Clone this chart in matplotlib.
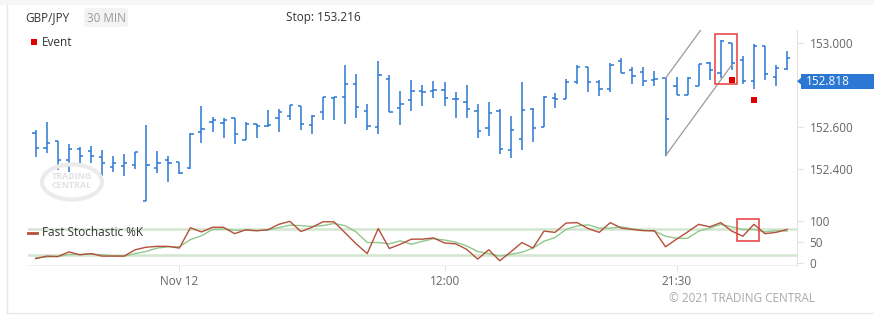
import matplotlib
matplotlib.use("Agg")
import matplotlib.pyplot as plt
from matplotlib.patches import Rectangle, Ellipse, Polygon, FancyBboxPatch
from matplotlib.lines import Line2D
import numpy as np

plt.rcParams['font.family'] = ['Open Sans', 'DejaVu Sans']

# OHLC, 30 min bars
opens = [152.571, 152.499, 152.532, 152.441, 152.494, 152.484, 152.456, 152.408, 152.413, 152.419,
         152.248, 152.403, 152.441, 152.432, 152.403, 152.575, 152.622, 152.618, 152.641, 152.537,
         152.613, 152.603, 152.641, 152.651, 152.700, 152.608, 152.670, 152.737, 152.741, 152.803,
         152.675, 152.599, 152.827, 152.689, 152.727, 152.770, 152.770, 152.775, 152.732, 152.718,
         152.675, 152.594, 152.675, 152.489, 152.541, 152.684, 152.599, 152.737, 152.733, 152.813,
         152.884, 152.813, 152.780, 152.913, 152.870, 152.860, 152.822, 152.832, 152.794, 152.751,
         152.794, 152.903, 152.856, 152.999, 152.918, 152.819, 152.984, 152.837, 152.875]
highs = [152.586, 152.624, 152.532, 152.518, 152.503, 152.510, 152.489, 152.462, 152.471, 152.480,
         152.610, 152.486, 152.462, 152.432, 152.570, 152.700, 152.648, 152.641, 152.641, 152.622,
         152.613, 152.681, 152.686, 152.705, 152.700, 152.656, 152.741, 152.741, 152.895, 152.852,
         152.708, 152.914, 152.846, 152.771, 152.824, 152.800, 152.819, 152.814, 152.765, 152.800,
         152.708, 152.718, 152.684, 152.651, 152.814, 152.689, 152.746, 152.760, 152.829, 152.894,
         152.884, 152.822, 152.903, 152.927, 152.884, 152.884, 152.865, 152.832, 152.837, 152.837,
         152.899, 152.908, 153.014, 152.999, 152.938, 152.994, 152.984, 152.894, 152.962]
lows = [152.457, 152.478, 152.395, 152.387, 152.416, 152.430, 152.368, 152.387, 152.368, 152.399,
        152.248, 152.380, 152.340, 152.375, 152.399, 152.525, 152.578, 152.549, 152.520, 152.537,
        152.549, 152.599, 152.578, 152.632, 152.587, 152.568, 152.632, 152.632, 152.616, 152.641,
        152.587, 152.568, 152.670, 152.611, 152.678, 152.701, 152.740, 152.701, 152.641, 152.644,
        152.546, 152.559, 152.470, 152.454, 152.489, 152.530, 152.599, 152.692, 152.733, 152.803,
        152.768, 152.749, 152.768, 152.856, 152.803, 152.794, 152.794, 152.463, 152.751, 152.751,
        152.794, 152.822, 152.832, 152.870, 152.803, 152.780, 152.822, 152.794, 152.870]
closes = [152.500, 152.522, 152.441, 152.494, 152.462, 152.460, 152.427, 152.427, 152.427, 152.480,
          152.419, 152.427, 152.427, 152.380, 152.565, 152.589, 152.632, 152.632, 152.565, 152.613,
          152.603, 152.608, 152.670, 152.703, 152.613, 152.651, 152.741, 152.741, 152.803, 152.694,
          152.603, 152.846, 152.670, 152.708, 152.771, 152.765, 152.775, 152.737, 152.732, 152.684,
          152.580, 152.665, 152.494, 152.584, 152.680, 152.594, 152.741, 152.733, 152.813, 152.884,
          152.813, 152.780, 152.894, 152.856, 152.841, 152.818, 152.827, 152.637, 152.751, 152.832,
          152.899, 152.870, 153.010, 152.903, 152.819, 152.986, 152.851, 152.880, 152.927]

# fast stochastic %K and its signal line
stoch_k = [11, 17, 16, 27, 20, 23, 17, 17, 17, 32,
           38, 40, 40, 36, 84, 74, 85, 85, 70, 79,
           77, 79, 92, 99, 75, 85, 98, 98, 72, 46,
           23, 82, 35, 45, 57, 57, 60, 48, 46, 33,
           10, 32, 6, 27, 49, 36, 76, 73, 95, 96,
           82, 73, 96, 83, 80, 77, 77, 39, 57, 74,
           92, 86, 96, 76, 64, 92, 70, 73, 80]
stoch_d = [13, 15, 16, 21, 21, 22, 20, 18, 17, 23,
           28, 36, 39, 39, 56, 65, 80, 81, 78, 78,
           77, 79, 84, 90, 89, 87, 89, 94, 89, 74,
           49, 49, 46, 53, 45, 52, 58, 55, 50, 41,
           28, 23, 17, 21, 26, 36, 52, 61, 80, 88,
           91, 83, 83, 86, 81, 78, 76, 64, 59, 59,
           76, 83, 92, 86, 80, 80, 74, 77, 76]

tick_pos = [13, 37, 58]
tick_labels = ['Nov 12', '12:00', '21:30']
price_ticks = [152.4, 152.6, 153.0]
stoch_ticks = [0, 50, 100]
last_price = 152.818
stop_price = 153.216

# channel drawn on the chart
channel_x = [57, 63]
channel_low = [152.463, 152.896]
channel_high = [152.832, 153.265]
# events
event_x = [63, 65]
event_y = [152.825, 152.730]

BLUE = '#2b78d4'
GREY_TXT = '#666666'
AXC = '#e3e3e3'

W, H = 874, 315
fig = plt.figure(figsize=(W / 100, H / 100), dpi=100)

def fx(px):
    return px / W

def fy(py):
    return 1 - py / H

# frame
fig.add_artist(Rectangle((0, fy(5)), 1, 1 - fy(5), transform=fig.transFigure,
                         facecolor='#f6f6f6', edgecolor='none'))
fig.add_artist(Line2D([fx(7), fx(7)], [fy(5), fy(313)], color='#e8e8e8', lw=1))
fig.add_artist(Line2D([fx(7), 1], [fy(313), fy(313)], color='#e8e8e8', lw=1))

x = np.arange(len(opens))
xl = (-0.7, 68.9)

ax = fig.add_axes([fx(28), fy(204), fx(797) - fx(28), fy(30) - fy(204)])
ax.vlines(x, lows, highs, color=BLUE, lw=1.1)
ax.hlines(opens, x - 0.3, x, color=BLUE, lw=1.1)
ax.hlines(closes, x, x + 0.3, color=BLUE, lw=1.1)
ax.plot(channel_x, channel_low, color='#9a9a9a', lw=0.9)
ax.plot(channel_x, channel_high, color='#9a9a9a', lw=0.9)
ax.scatter(event_x, event_y, marker='s', s=19, color='#e00000', zorder=5, linewidths=0)
ax.add_patch(Rectangle((61.5, 152.803), 2.0, 153.041 - 152.803, fill=False,
                       edgecolor='#e83a3a', lw=1.1, zorder=6))
ax.set_xlim(*xl)
ax.set_ylim(152.233, 153.062)
for s in ['top', 'left', 'bottom']:
    ax.spines[s].set_visible(False)
ax.spines['right'].set_color(AXC)
ax.yaxis.tick_right()
ax.set_yticks(price_ticks)
ax.set_yticklabels(['%.3f' % v for v in price_ticks])
ax.tick_params(axis='y', colors=AXC, labelcolor=GREY_TXT, labelsize=8.5, length=4, pad=5)
ax.set_xticks([])
ax.patch.set_alpha(0)

# stochastic panel
ax2 = fig.add_axes([fx(28), fy(265), fx(797) - fx(28), fy(204) - fy(265)])
ax2.axhline(80, color='#d3e6cf', lw=1.8)
ax2.axhline(20, color='#d3e6cf', lw=1.8)
ax2.plot(x, stoch_d, color='#92c78d', lw=1.0)
ax2.plot(x, stoch_k, color='#b4503a', lw=1.0)
ax2.add_patch(Rectangle((63.5, 52), 1.95, 53, fill=False, edgecolor='#e83a3a', lw=1.1, zorder=6))
ax2.set_xlim(*xl)
ax2.set_ylim(-4, 140)
for s in ['top', 'left']:
    ax2.spines[s].set_visible(False)
ax2.spines['right'].set_color(AXC)
ax2.spines['bottom'].set_color('#efefef')
ax2.yaxis.tick_right()
ax2.set_yticks(stoch_ticks)
ax2.tick_params(axis='y', colors=AXC, labelcolor=GREY_TXT, labelsize=8.5, length=4, pad=5)
ax2.set_xticks(tick_pos)
ax2.set_xticklabels(tick_labels)
ax2.tick_params(axis='x', colors=AXC, labelcolor=GREY_TXT, labelsize=8.5, length=4, pad=3)
ax2.patch.set_alpha(0)

# last price label
fig.add_artist(Rectangle((fx(801), fy(88.5)), 1 - fx(801), fy(74) - fy(88.5),
                         transform=fig.transFigure, facecolor=BLUE, edgecolor='none'))
fig.add_artist(Polygon([[fx(797), fy(81.2)], [fx(801.5), fy(77.5)], [fx(801.5), fy(85)]],
                       closed=True, transform=fig.transFigure, facecolor=BLUE, edgecolor='none'))
fig.text(fx(806), fy(81.5), '%.3f' % last_price, color='white', fontsize=8.5, va='center', ha='left')

# header
fig.text(fx(25), fy(18), 'GBP/JPY', color='#333333', fontsize=8.5, va='center', ha='left')
fig.add_artist(FancyBboxPatch((fx(84), fy(27)), fx(44), fy(8) - fy(27),
                              boxstyle='round,pad=0,rounding_size=0.006', transform=fig.transFigure,
                              facecolor='#f3f3f3', edgecolor='none'))
fig.text(fx(106), fy(18), '30 MIN', color='#9a9a9a', fontsize=8.5, va='center', ha='center')
fig.text(fx(286), fy(18), 'Stop: %.3f' % stop_price, color='#333333', fontsize=8.5, va='center', ha='left')

# legends
fig.add_artist(Rectangle((fx(31), fy(45)), fx(6), fy(39) - fy(45), transform=fig.transFigure,
                         facecolor='#e00000', edgecolor='none'))
fig.text(fx(42), fy(42.5), 'Event', color='#333333', fontsize=8.5, va='center', ha='left')
fig.add_artist(Line2D([fx(28), fx(37)], [fy(233), fy(233)], color='#b4503a', lw=2))
fig.text(fx(42), fy(233), 'Fast Stochastic %K', color='#333333', fontsize=8.5, va='center', ha='left')

# watermark
fig.add_artist(Ellipse((fx(72), fy(182)), fx(60), fy(165) - fy(200), transform=fig.transFigure,
                       fill=False, edgecolor='#ebebeb', lw=3))
fig.text(fx(72), fy(181), 'TRADING\nCENTRAL', color='#e2e2e2', fontsize=6.5, fontweight='bold',
         va='center', ha='center', linespacing=0.9)

fig.text(fx(815), fy(298), '\u00a9 2021 TRADING CENTRAL', color='#a8a8a8', fontsize=8.5,
         va='center', ha='right')

fig.savefig('out.png', dpi=100)
